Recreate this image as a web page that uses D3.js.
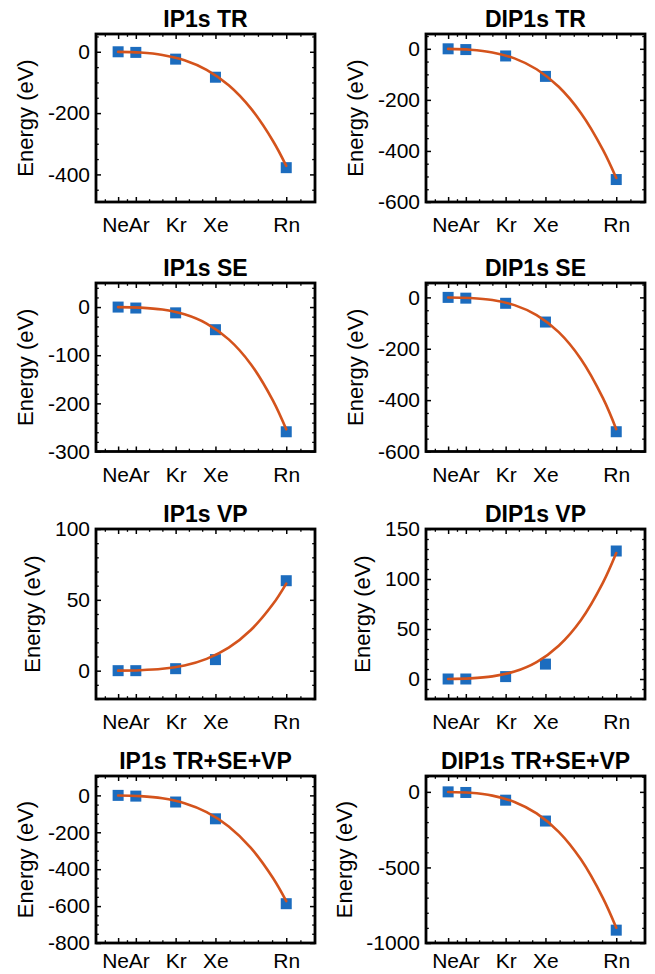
<!DOCTYPE html>
<html><head><meta charset="utf-8">
<script src="https://cdn.jsdelivr.net/npm/d3@7"></script>
<style>body{margin:0;background:#fff} text{font-family:"Liberation Sans",Arial,Helvetica,sans-serif}</style>
</head><body><svg id="c" width="655" height="974" style="background:#fff"></svg>
<script>
// ---- data ----
const elements = ["Ne","Ar","Kr","Xe","Rn"];
const atomicZ = [10,18,36,54,86];
const fitZ = [10,20,30,40,50,60,70,80,86];
const titles = ["IP1s TR","DIP1s TR","IP1s SE","DIP1s SE","IP1s VP","DIP1s VP","IP1s TR+SE+VP","DIP1s TR+SE+VP"];

const ip1sTR   = [0,-2,-24,-83,-378];
const dip1sTR  = [0,-3,-28,-108,-512];
const ip1sSE   = [0,-2,-12,-47,-259];
const dip1sSE  = [0,-3,-23,-96,-523];
const ip1sVP   = [0,0,1.4,7.8,63.5];
const dip1sVP  = [0,0,2.4,14.9,128];
const ip1sTot  = [0,-4,-36,-127,-587];
const dip1sTot = [0,-4,-55,-193,-915];

const ip1sTRfit   = [-0.3,-2.6,-10.3,-27.6,-58.9,-109.4,-184.8,-290.9,-372];
const dip1sTRfit  = [-0.3,-3.5,-14.1,-37.5,-80.0,-148.8,-251.3,-395.7,-506];
const ip1sSEfit   = [-0.1,-1.2,-5.2,-15.0,-34.2,-67.1,-118.6,-194.3,-254];
const dip1sSEfit  = [-0.2,-2.3,-10.4,-30.2,-69.0,-135.4,-239.6,-392.4,-513];
const ip1sVPfit   = [0.0,0.3,1.3,3.6,8.3,16.2,28.7,47.0,61.5];
const dip1sVPfit  = [0.0,0.6,2.6,7.4,16.9,33.3,58.8,96.4,126];
const ip1sTotfit  = [-0.4,-4.0,-15.9,-42.5,-90.6,-168.5,-284.6,-448.1,-573];
const dip1sTotfit = [-0.6,-6.3,-25.0,-66.6,-142.2,-264.3,-446.5,-703.0,-899];

const pointSeries = [ip1sTR,dip1sTR,ip1sSE,dip1sSE,ip1sVP,dip1sVP,ip1sTot,dip1sTot];
const fitSeries = [ip1sTRfit,dip1sTRfit,ip1sSEfit,dip1sSEfit,ip1sVPfit,dip1sVPfit,ip1sTotfit,dip1sTotfit];

const yDomains = [[-490,58],[-600,58],[-300,50],[-600,56],[-20,100],[-20,150],[-800,105],[-1000,105]];
const yTicks = [[-400,-200,0],[-600,-400,-200,0],[-300,-200,-100,0],[-600,-400,-200,0],[0,50,100],[0,50,100,150],[-800,-600,-400,-200,0],[-1000,-500,0]];
const yMinorStep = [50,50,20,50,10,10,50,100];
const xMinorTicks = [4,14,24,30,42,48,60.4,66.8,73.2,79.6,92.4];
const xDomain = [0,99];

// ---- layout ----
const colLeft = [96,426], boxW = 219;
const rowTop = [34,283,529,776], rowBottom = [202,451.5,699,943];
const xLabelBaseline = [30,30,30,25];
const blue = "#1c6cbe", orange = "#d4531c";
const tickFont = 21;

const svg = d3.select("#c");

titles.forEach((title,i)=>{
  const col = i%2, row = Math.floor(i/2);
  const L = colLeft[col], R = L+boxW, T = rowTop[row], B = rowBottom[row];
  const x = d3.scaleLinear().domain(xDomain).range([L,R]);
  const y = d3.scaleLinear().domain(yDomains[i]).range([B,T]);
  const g = svg.append("g");

  const dom = yDomains[i], st = yMinorStep[i];
  const yMinor = d3.range(Math.ceil(dom[0]/st)*st, dom[1]+1e-9, st).filter(v=>!yTicks[i].includes(v));

  // minor ticks
  const minorStyle = sel=>{sel.select(".domain").remove(); sel.selectAll("line").attr("stroke","#000").attr("stroke-width",1.3);};
  g.append("g").attr("transform",`translate(0,${B})`).call(d3.axisBottom(x).tickValues(xMinorTicks).tickSize(-2.8).tickFormat("")).call(minorStyle);
  g.append("g").attr("transform",`translate(0,${T})`).call(d3.axisTop(x).tickValues(xMinorTicks).tickSize(-2.8).tickFormat("")).call(minorStyle);
  g.append("g").attr("transform",`translate(${L},0)`).call(d3.axisLeft(y).tickValues(yMinor).tickSize(-2.8).tickFormat("")).call(minorStyle);
  g.append("g").attr("transform",`translate(${R},0)`).call(d3.axisRight(y).tickValues(yMinor).tickSize(-2.8).tickFormat("")).call(minorStyle);

  // major ticks
  const majStyle = sel=>{sel.select(".domain").remove(); sel.selectAll("line").attr("stroke","#000").attr("stroke-width",1.5);
    sel.selectAll("text").attr("font-size",tickFont).attr("fill","#000").attr("font-family",'"Liberation Sans",Arial,sans-serif');};
  const pad = xLabelBaseline[row] - 0.71*tickFont;
  const xb = g.append("g").attr("transform",`translate(0,${B})`)
    .call(d3.axisBottom(x).tickValues(atomicZ).tickFormat((d,k)=>elements[k]).tickSize(-5).tickPadding(pad)).call(majStyle);
  xb.selectAll("text").attr("dx",d=> d===10? -3 : d===18 ? 3 : 0);
  g.append("g").attr("transform",`translate(0,${T})`).call(d3.axisTop(x).tickValues(atomicZ).tickSize(-5).tickFormat("")).call(majStyle);
  const yl = g.append("g").attr("transform",`translate(${L},0)`)
    .call(d3.axisLeft(y).tickValues(yTicks[i]).tickSize(-5).tickPadding(6).tickFormat(d=>String(d))).call(majStyle);
  g.append("g").attr("transform",`translate(${R},0)`).call(d3.axisRight(y).tickValues(yTicks[i]).tickSize(-5).tickFormat("")).call(majStyle);

  // box
  g.append("rect").attr("x",L).attr("y",T).attr("width",boxW).attr("height",B-T)
    .attr("fill","none").attr("stroke","#000").attr("stroke-width",2.8);

  // markers
  g.selectAll("rect.pt").data(pointSeries[i]).enter().append("rect").attr("class","pt")
    .attr("x",(d,k)=>x(atomicZ[k])-5.5).attr("y",d=>y(d)-5.5).attr("width",11).attr("height",11)
    .attr("fill",blue);

  // fit curve
  const line = d3.line().x((d,k)=>x(fitZ[k])).y(d=>y(d)).curve(d3.curveCatmullRom.alpha(0.5));
  g.append("path").datum(fitSeries[i]).attr("d",line).attr("fill","none")
    .attr("stroke",orange).attr("stroke-width",2.6).attr("stroke-linecap","round");

  // title
  g.append("text").attr("x",(L+R)/2).attr("y",T-7.5).attr("text-anchor","middle")
    .attr("font-size",23).attr("font-weight","bold").text(title);

  // y label
  let maxW = 0;
  yl.selectAll("text").each(function(){maxW = Math.max(maxW,this.getComputedTextLength());});
  const bx = L - 6 - maxW - 10 - 4.6;
  g.append("text").attr("transform",`translate(${bx},${(T+B)/2}) rotate(-90)`)
    .attr("text-anchor","middle").attr("font-size",22).text("Energy (eV)");
});
</script></body></html>
